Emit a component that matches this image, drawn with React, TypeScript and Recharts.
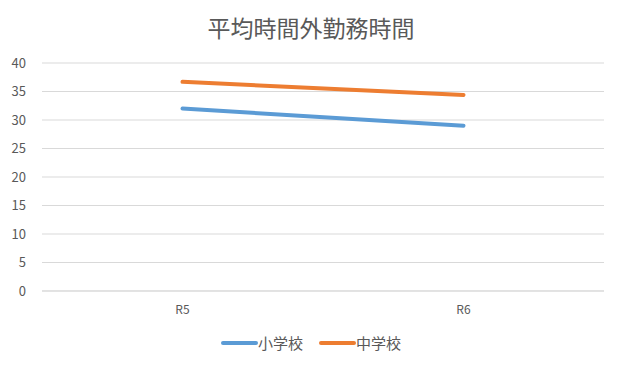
import { CartesianGrid, Legend, Line, LineChart, XAxis, YAxis } from 'recharts';

const categories = ['R5', 'R6'];
const seriesNames = ['小学校', '中学校'];
const elementary = [32.0, 29.0];
const juniorHigh = [36.7, 34.4];
const yTicks = [0, 5, 10, 15, 20, 25, 30, 35, 40];

const FONT = '"Noto Sans CJK JP", "Noto Sans", sans-serif';

const data = categories.map((name, i) => ({
    name,
    [seriesNames[0]]: elementary[i],
    [seriesNames[1]]: juniorHigh[i],
}));

const LegendContent = (props: any) => {
    const { payload } = props;
    const items = seriesNames
        .map(n => (payload || []).find((p: any) => p.value === n))
        .filter(Boolean);
    return (
        <div style={{ display: 'flex', justifyContent: 'center', gap: 16, fontFamily: FONT, fontSize: 15, color: '#595959', lineHeight: '20px' }}>
            {items.map((item: any) => (
                <div key={item.value} style={{ display: 'flex', alignItems: 'center' }}>
                    <span style={{ display: 'inline-block', width: 37, height: 4, borderRadius: 2, backgroundColor: item.color }}></span>
                    <span>{item.value}</span>
                </div>
            ))}
        </div>
    );
};

const App = () => {
    return (
        <div style={{ position: 'absolute', left: 0, top: 0, width: 622, height: 369, background: '#fff' }}>
            <div style={{ position: 'absolute', top: 9, width: 622, textAlign: 'center', fontFamily: FONT, fontSize: 23, color: '#595959', lineHeight: '36px' }}>
                平均時間外勤務時間
            </div>
            <LineChart width={622} height={369} data={data} margin={{ top: 63, right: 18, left: 0, bottom: 16 }}>
                <CartesianGrid vertical={false} stroke="#d9d9d9" />
                <XAxis
                    dataKey="name"
                    scale="band"
                    axisLine={{ stroke: '#d9d9d9' }}
                    tickLine={false}
                    height={42}
                    tickMargin={8}
                    tick={{ fill: '#595959', fontSize: 12, fontFamily: FONT }}
                />
                <YAxis
                    domain={[0, 40]}
                    ticks={yTicks}
                    axisLine={false}
                    tickLine={false}
                    width={42}
                    tickMargin={10}
                    tick={{ fill: '#595959', fontSize: 13, fontFamily: FONT }}
                />
                <Legend verticalAlign="bottom" content={<LegendContent />} wrapperStyle={{ left: 0, width: 622 }} />
                <Line dataKey={seriesNames[0]} stroke="#5B9BD5" strokeWidth={4} dot={false} strokeLinecap="round" isAnimationActive={false} />
                <Line dataKey={seriesNames[1]} stroke="#ED7D31" strokeWidth={4} dot={false} strokeLinecap="round" isAnimationActive={false} />
            </LineChart>
        </div>
    );
};

export default App;
